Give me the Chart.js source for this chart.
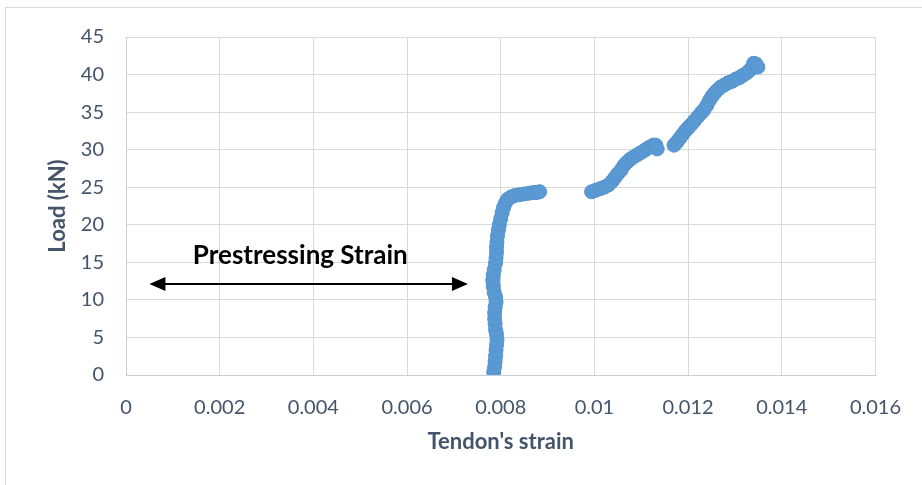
<!DOCTYPE html>
<html>
<head>
<meta charset="utf-8">
<script src="https://cdn.jsdelivr.net/npm/chart.js@4/dist/chart.umd.min.js"></script>
<style>
  html, body { margin: 0; padding: 0; background: #fff; }
  #wrap { width: 922px; height: 485px; }
</style>
</head>
<body>
<div id="wrap"><canvas id="chartTendon" width="922" height="485"></canvas></div>
<script>
// tendon strain vs. load readings (strain, kN)
const strain = [
    0.00785, 0.00787, 0.00788, 0.00789, 0.00790, 0.00791, 0.00792, 0.00791, 0.00789, 0.00788,
    0.00787, 0.00787, 0.00788, 0.00790, 0.00789, 0.00786, 0.00784, 0.00783, 0.00784, 0.00786,
    0.00789, 0.00790, 0.00791, 0.00791, 0.00792, 0.00793, 0.00795, 0.00797, 0.00800, 0.00803,
    0.00806, 0.00810, 0.00815, 0.00822, 0.00830, 0.00840, 0.00850, 0.00860, 0.00870, 0.00877, 0.00883,
    0.00994, 0.01003, 0.01012, 0.01021, 0.01030, 0.01038, 0.01044, 0.01050, 0.01057, 0.01063,
    0.01069, 0.01076, 0.01083, 0.01091, 0.01099, 0.01107, 0.01114, 0.01120, 0.01126, 0.01131, 0.01134,
    0.01170, 0.01176, 0.01182, 0.01188, 0.01194, 0.01200, 0.01206, 0.01213, 0.01221, 0.01228,
    0.01234, 0.01240, 0.01246, 0.01251, 0.01256, 0.01262, 0.01269, 0.01277, 0.01285, 0.01294,
    0.01302, 0.01310, 0.01317, 0.01325, 0.01332, 0.01338, 0.01340, 0.01345, 0.01349
];
const load = [
    0.4, 1.1, 1.8, 2.5, 3.3, 4.0, 4.7, 5.4, 6.0, 6.8,
    7.5, 8.3, 9.0, 9.7, 10.4, 11.0, 11.8, 12.6, 13.3, 14.0,
    14.9, 15.6, 16.3, 17.0, 17.7, 18.5, 19.3, 20.0, 20.8, 21.6,
    22.3, 22.9, 23.4, 23.7, 23.9, 24.0, 24.1, 24.2, 24.3, 24.3, 24.4,
    24.4, 24.6, 24.8, 25.0, 25.3, 25.8, 26.3, 26.8, 27.3, 27.9,
    28.3, 28.7, 29.0, 29.3, 29.6, 29.9, 30.2, 30.4, 30.6, 30.6, 30.1,
    30.6, 31.0, 31.5, 32.0, 32.5, 32.9, 33.3, 33.8, 34.4, 34.9,
    35.3, 35.9, 36.6, 37.1, 37.5, 37.9, 38.3, 38.6, 38.9, 39.1,
    39.4, 39.6, 39.9, 40.2, 40.6, 41.0, 41.5, 41.4, 41.0
];

const xTicks = [0, 0.002, 0.004, 0.006, 0.008, 0.01, 0.012, 0.014, 0.016];

// double-headed arrow span and its caption
const arrowFrom = 0.0005;
const arrowTo = 0.0073;
const arrowLoad = 12.1;
const captionStrain = 0.00372;
const captionLoad = 15.9;
const arrowCaption = "Prestressing Strain";

const textGrey = "#44546a";
const gridGrey = "#d9d9d9";
const markerBlue = "#5b9bd5";

const frameAndArrow = {
    id: "frameAndArrow",
    beforeDraw(chart) {
        const c = chart.ctx;
        c.save();
        c.fillStyle = "#fff";
        c.fillRect(0, 0, chart.width, chart.height);
        c.strokeStyle = gridGrey;
        c.lineWidth = 1;
        c.strokeRect(5.5, 7.5, chart.width + 20, chart.height + 20);
        c.restore();
    },
    afterDatasetsDraw(chart) {
        const c = chart.ctx;
        const x = chart.scales.x;
        const y = chart.scales.y;
        const x1 = x.getPixelForValue(arrowFrom);
        const x2 = x.getPixelForValue(arrowTo);
        const ay = y.getPixelForValue(arrowLoad);
        const head = 16;
        const half = 7;
        c.save();
        c.strokeStyle = "#000";
        c.fillStyle = "#000";
        c.lineWidth = 2;
        c.beginPath();
        c.moveTo(x1 + head - 2, ay);
        c.lineTo(x2 - head + 2, ay);
        c.stroke();
        c.beginPath();
        c.moveTo(x1, ay);
        c.lineTo(x1 + head, ay - half);
        c.lineTo(x1 + head, ay + half);
        c.closePath();
        c.fill();
        c.beginPath();
        c.moveTo(x2, ay);
        c.lineTo(x2 - head, ay - half);
        c.lineTo(x2 - head, ay + half);
        c.closePath();
        c.fill();
        c.font = "bold 26px Lato";
        c.textAlign = "center";
        c.textBaseline = "middle";
        c.fillText(arrowCaption, x.getPixelForValue(captionStrain), y.getPixelForValue(captionLoad));
        c.restore();
    }
};

document.addEventListener("DOMContentLoaded", () => {
    const ctx = document.getElementById("chartTendon");

    new Chart(ctx, {
        type: "scatter",
        data: {
            datasets: [{
                label: "Load",
                data: strain.map((s, i) => ({ x: s, y: load[i] })),
                backgroundColor: markerBlue,
                borderColor: "#5593cc",
                borderWidth: 1,
                pointRadius: 7,
                pointHoverRadius: 7
            }]
        },
        options: {
            responsive: false,
            animation: false,
            layout: {
                padding: { top: 37, right: 45, bottom: 0, left: 0 }
            },
            plugins: {
                legend: { display: false },
                tooltip: { enabled: false }
            },
            scales: {
                x: {
                    type: "linear",
                    min: 0,
                    max: 0.016,
                    afterBuildTicks: scale => {
                        scale.ticks = xTicks.map(v => ({ value: v }));
                    },
                    afterFit: scale => { scale.height = 110; },
                    grid: { color: gridGrey, drawTicks: false },
                    border: { color: "#c9ced6" },
                    ticks: {
                        color: textGrey,
                        font: { family: "Lato", size: 20 },
                        padding: 21,
                        maxRotation: 0,
                        callback: v => String(+v.toFixed(3))
                    },
                    title: {
                        display: true,
                        text: "Tendon's strain",
                        color: textGrey,
                        font: { family: "Lato", size: 22, weight: "bold" },
                        padding: { top: 0, bottom: 30 }
                    }
                },
                y: {
                    min: 0,
                    max: 45,
                    afterFit: scale => { scale.width = 126; },
                    grid: { color: gridGrey, drawTicks: false },
                    border: { color: "#c9ced6" },
                    ticks: {
                        stepSize: 5,
                        color: textGrey,
                        font: { family: "Lato", size: 20 },
                        padding: 22
                    },
                    title: {
                        display: true,
                        text: "Load (kN)",
                        color: textGrey,
                        font: { family: "Lato", size: 22, weight: "bold" },
                        padding: { top: 45, bottom: 0 }
                    }
                }
            }
        },
        plugins: [frameAndArrow]
    });
});
</script>
</body>
</html>
